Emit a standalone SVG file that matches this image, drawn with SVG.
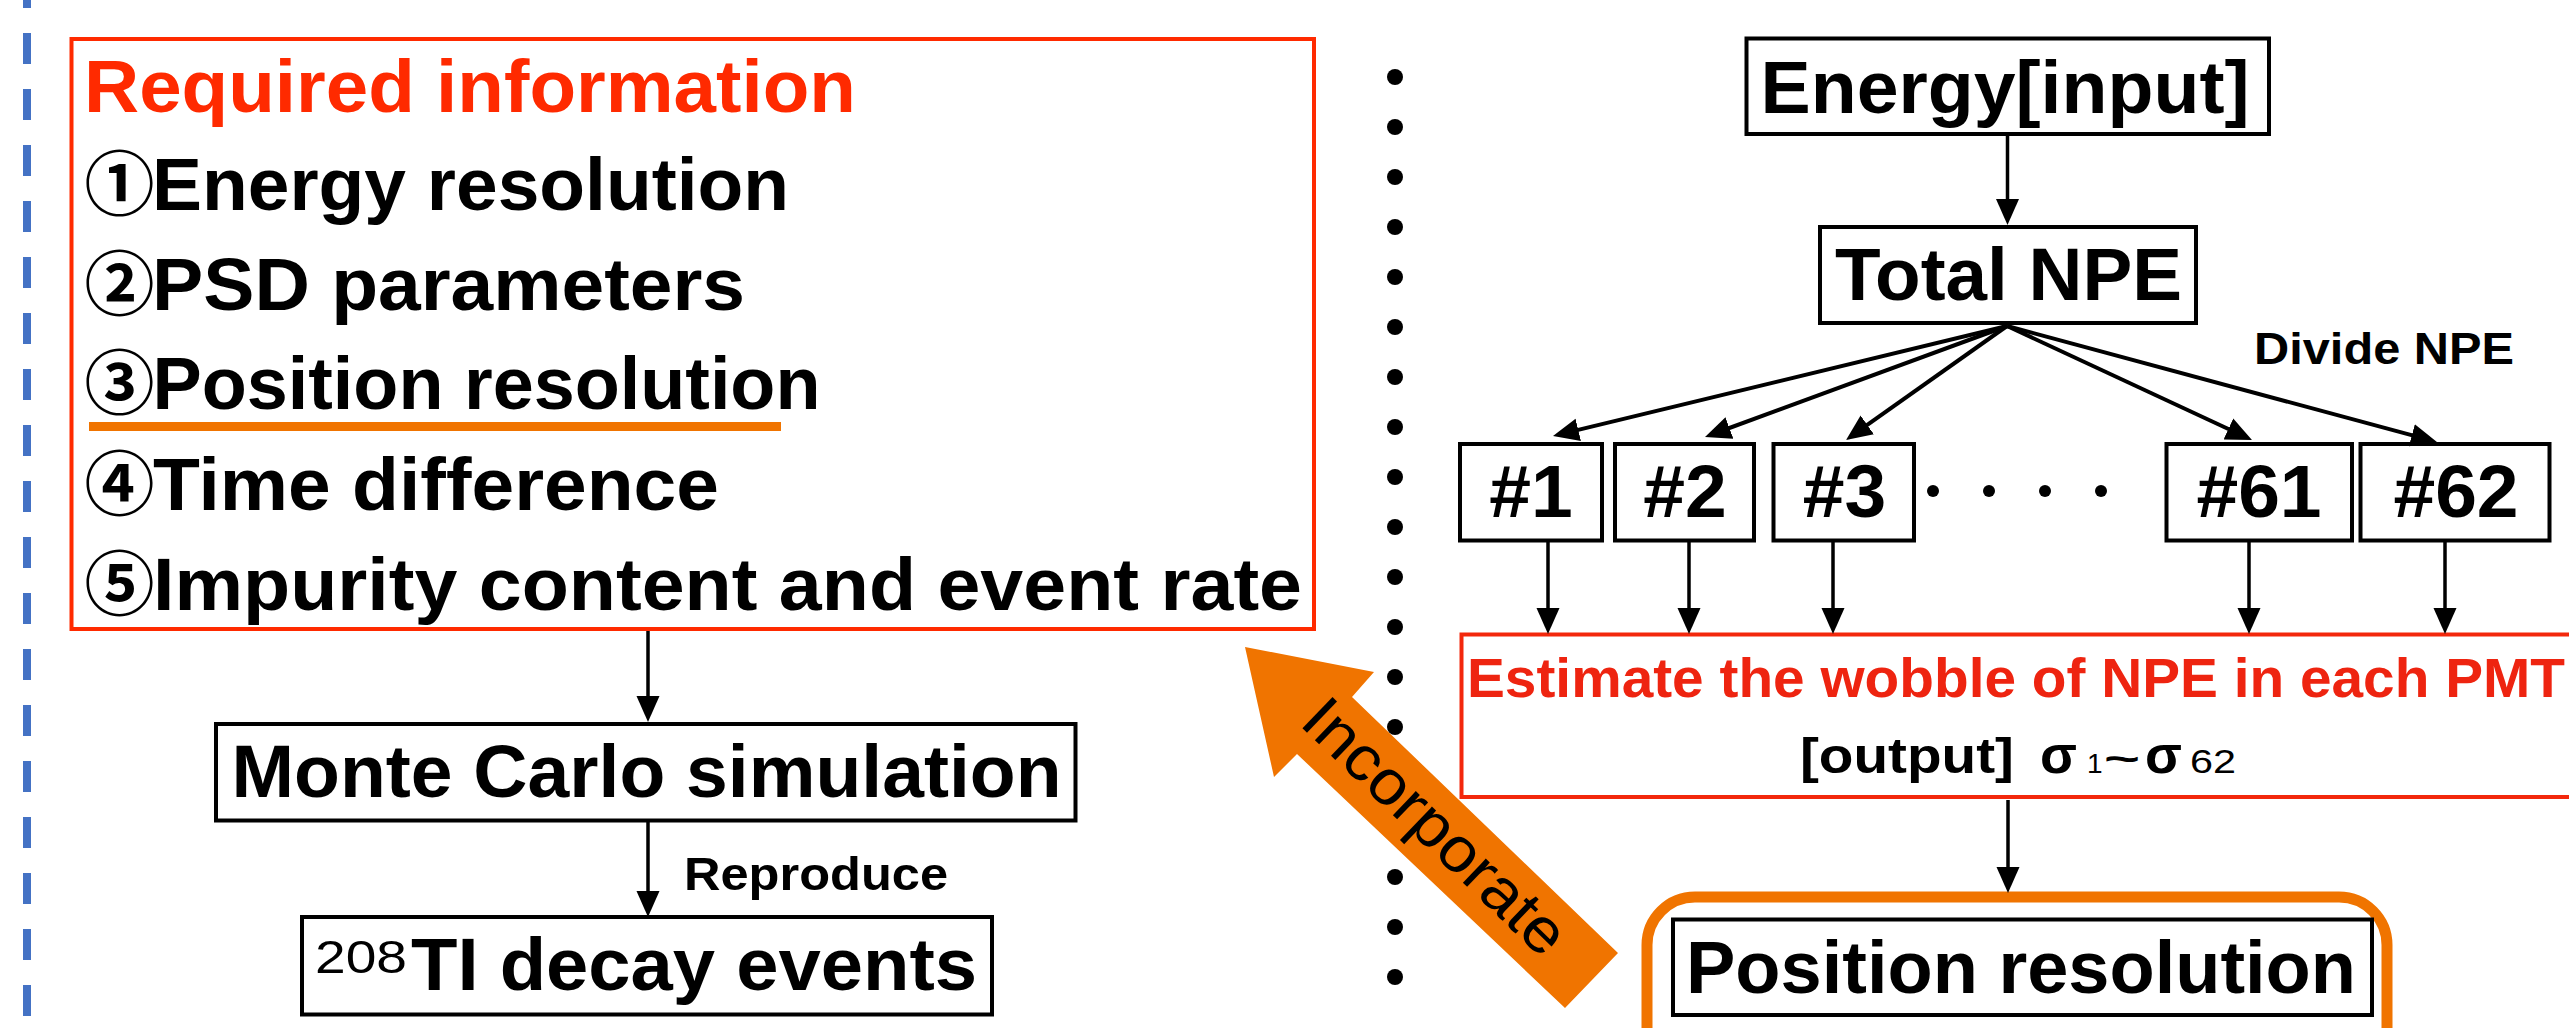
<svg xmlns="http://www.w3.org/2000/svg" width="2569" height="1028" viewBox="0 0 2569 1028">
<defs>
<style>
text { font-family: "Liberation Sans", Arial, "Noto Sans CJK JP", sans-serif; fill: #000; }
.big { font-size: 75px; font-weight: bold; }
.mid { font-size: 46px; font-weight: bold; }
.circ { font-family: "Noto Sans CJK JP", sans-serif; font-weight: bold; font-size: 70px; }
.box { fill: #fff; stroke: #000; stroke-width: 4; }
.rbox { fill: #fff; stroke: #ff2a00; stroke-width: 4; }
.con { stroke: #000; stroke-width: 3.5; fill: none; marker-end: url(#ah); }
.fan { stroke-width: 4; }
.sep { fill: #000; }
.pdot { fill: #000; }
</style>
<marker id="ah" markerUnits="userSpaceOnUse" viewBox="0 0 26 24" refX="16" refY="12" markerWidth="26" markerHeight="24" orient="auto">
<path d="M0,0.5 L26,12 L0,23.5 z" fill="#000"/>
</marker>
</defs>
<rect width="2569" height="1028" fill="#fff"/>

<!-- blue dashed frame line -->
<line x1="27" y1="-23" x2="27" y2="1060" stroke="#4472c4" stroke-width="8" stroke-dasharray="31 25"/>

<!-- dotted separator -->
<g id="separator">
<circle class="sep" cx="1395" cy="77" r="8"/><circle class="sep" cx="1395" cy="127" r="8"/><circle class="sep" cx="1395" cy="177" r="8"/><circle class="sep" cx="1395" cy="227" r="8"/><circle class="sep" cx="1395" cy="277" r="8"/><circle class="sep" cx="1395" cy="327" r="8"/><circle class="sep" cx="1395" cy="377" r="8"/><circle class="sep" cx="1395" cy="427" r="8"/><circle class="sep" cx="1395" cy="477" r="8"/><circle class="sep" cx="1395" cy="527" r="8"/><circle class="sep" cx="1395" cy="577" r="8"/><circle class="sep" cx="1395" cy="627" r="8"/><circle class="sep" cx="1395" cy="677" r="8"/><circle class="sep" cx="1395" cy="727" r="8"/><circle class="sep" cx="1395" cy="777" r="8"/><circle class="sep" cx="1395" cy="827" r="8"/><circle class="sep" cx="1395" cy="877" r="8"/><circle class="sep" cx="1395" cy="927" r="8"/><circle class="sep" cx="1395" cy="977" r="8"/>
</g>

<!-- Left panel -->
<g id="required-info">
<rect class="rbox" x="71.5" y="39" width="1242.5" height="590"/>
<text class="big" x="84" y="112" style="fill:#ff2a00" textLength="772" lengthAdjust="spacingAndGlyphs">Required information</text>
<text class="big"><tspan class="circ" x="84.5" y="210">①</tspan><tspan x="152" y="210" textLength="637" lengthAdjust="spacingAndGlyphs">Energy resolution</tspan></text>
<text class="big"><tspan class="circ" x="84.5" y="310">②</tspan><tspan x="152" y="310" textLength="593" lengthAdjust="spacingAndGlyphs">PSD parameters</tspan></text>
<text class="big"><tspan class="circ" x="84.5" y="409">③</tspan><tspan x="152.5" y="409" textLength="668" lengthAdjust="spacingAndGlyphs">Position resolution</tspan></text>
<rect x="89" y="422" width="692" height="9" fill="#f07400"/>
<text class="big"><tspan class="circ" x="84.5" y="510">④</tspan><tspan x="153" y="510" textLength="566" lengthAdjust="spacingAndGlyphs">Time difference</tspan></text>
<text class="big"><tspan class="circ" x="84.5" y="610">⑤</tspan><tspan x="153" y="610" textLength="1149" lengthAdjust="spacingAndGlyphs">Impurity content and event rate</tspan></text>
</g>

<g id="monte-carlo">
<rect class="box" x="216" y="724" width="859.5" height="96.5"/>
<text class="big" x="231.5" y="797" textLength="830" lengthAdjust="spacingAndGlyphs">Monte Carlo simulation</text>
</g>

<g id="tl-decay">
<rect class="box" x="302" y="917" width="690" height="97.5"/>
<text class="big"><tspan x="315" y="973" style="font-size:46px;font-weight:normal" textLength="92" lengthAdjust="spacingAndGlyphs">208</tspan><tspan x="411" y="990" textLength="566" lengthAdjust="spacingAndGlyphs">TI decay events</tspan></text>
</g>

<!-- Right panel -->
<g id="energy-input">
<rect class="box" x="1746.5" y="38.5" width="522.5" height="95.5"/>
<text class="big" x="1760.5" y="113" textLength="489" lengthAdjust="spacingAndGlyphs">Energy[input]</text>
</g>

<g id="total-npe">
<rect class="box" x="1820" y="227" width="376" height="96"/>
<text class="big" x="1835" y="300" textLength="347" lengthAdjust="spacingAndGlyphs">Total NPE</text>
</g>

<g id="pmt1"><rect class="box" x="1460" y="444" width="142" height="96.5"/><text class="big" x="1531" y="517" text-anchor="middle">#1</text></g>
<g id="pmt2"><rect class="box" x="1615" y="444" width="139" height="96.5"/><text class="big" x="1685" y="517" text-anchor="middle">#2</text></g>
<g id="pmt3"><rect class="box" x="1773.5" y="444" width="140.5" height="96.5"/><text class="big" x="1844.5" y="517" text-anchor="middle">#3</text></g>
<g id="pmt61"><rect class="box" x="2166.5" y="444" width="185.5" height="96.5"/><text class="big" x="2259" y="517" text-anchor="middle">#61</text></g>
<g id="pmt62"><rect class="box" x="2360.5" y="444" width="189" height="96.5"/><text class="big" x="2456" y="517" text-anchor="middle">#62</text></g>

<g id="ellipsis">
<circle class="pdot" cx="1933" cy="491" r="6"/><circle class="pdot" cx="1989" cy="491" r="6"/><circle class="pdot" cx="2045" cy="491" r="6"/><circle class="pdot" cx="2101" cy="491" r="6"/>
</g>

<g id="estimate-wobble">
<rect class="rbox" x="1461.5" y="634.5" width="1200" height="162.5" style="stroke:#f3280c"/>
<text x="1467" y="697" style="font-size:56px;font-weight:bold;fill:#ee2410" textLength="1098" lengthAdjust="spacingAndGlyphs">Estimate the wobble of NPE in each PMT</text>
<text class="mid" x="1800" y="773" style="font-size:50px"><tspan textLength="214" lengthAdjust="spacingAndGlyphs">[output]</tspan><tspan x="2040" style="font-size:54px;font-weight:bold">σ</tspan><tspan x="2087" style="font-size:28px;font-weight:normal">1</tspan><tspan x="2104" y="771" style="font-size:36px" textLength="36" lengthAdjust="spacingAndGlyphs">~</tspan><tspan x="2145" y="773" style="font-size:54px;font-weight:bold">σ</tspan><tspan x="2190" style="font-size:33px;font-weight:normal" textLength="46" lengthAdjust="spacingAndGlyphs">62</tspan></text>
</g>

<g id="position-resolution">
<rect x="1647" y="897" width="740" height="200" rx="48" ry="48" fill="#fff" stroke="#f07400" stroke-width="11"/>
<rect class="box" x="1673" y="919.5" width="699" height="95.5"/>
<text class="big" x="1686" y="993" textLength="670" lengthAdjust="spacingAndGlyphs">Position resolution</text>
</g>

<!-- connectors -->
<g id="connectors">
<line class="con" x1="648" y1="631" x2="648" y2="712"/>
<line class="con" x1="648" y1="822" x2="648" y2="907"/>
<line class="con" x1="2007.5" y1="136" x2="2007.5" y2="215"/>
<line class="con fan" x1="2007" y1="326" x2="1562.7" y2="433.6"/>
<line class="con fan" x1="2007" y1="326" x2="1714.4" y2="433.5"/>
<line class="con fan" x1="2007" y1="326" x2="1854.2" y2="434.2"/>
<line class="con fan" x1="2007" y1="326" x2="2242.9" y2="435.8"/>
<line class="con fan" x1="2007" y1="326" x2="2427.3" y2="439.4"/>
<line class="con" x1="1548" y1="542" x2="1548" y2="624"/>
<line class="con" x1="1689" y1="542" x2="1689" y2="624"/>
<line class="con" x1="1833" y1="542" x2="1833" y2="624"/>
<line class="con" x1="2249" y1="542" x2="2249" y2="624"/>
<line class="con" x1="2445" y1="542" x2="2445" y2="624"/>
<line class="con" x1="2008" y1="800" x2="2008" y2="883"/>
</g>

<text x="684" y="890" style="font-size:47px;font-weight:bold" textLength="264" lengthAdjust="spacingAndGlyphs">Reproduce</text>
<text x="2254" y="364" style="font-size:44px;font-weight:bold" textLength="260" lengthAdjust="spacingAndGlyphs">Divide NPE</text>

<!-- Incorporate arrow -->
<g id="incorporate">
<polygon points="1245,647 1374,672 1352,697 1618,953 1565,1008 1297,754 1274,777" fill="#f07400"/>
<text transform="translate(1298,724) rotate(43.9)" style="font-size:63px;font-weight:normal" textLength="340" lengthAdjust="spacingAndGlyphs">Incorporate</text>
</g>
</svg>
